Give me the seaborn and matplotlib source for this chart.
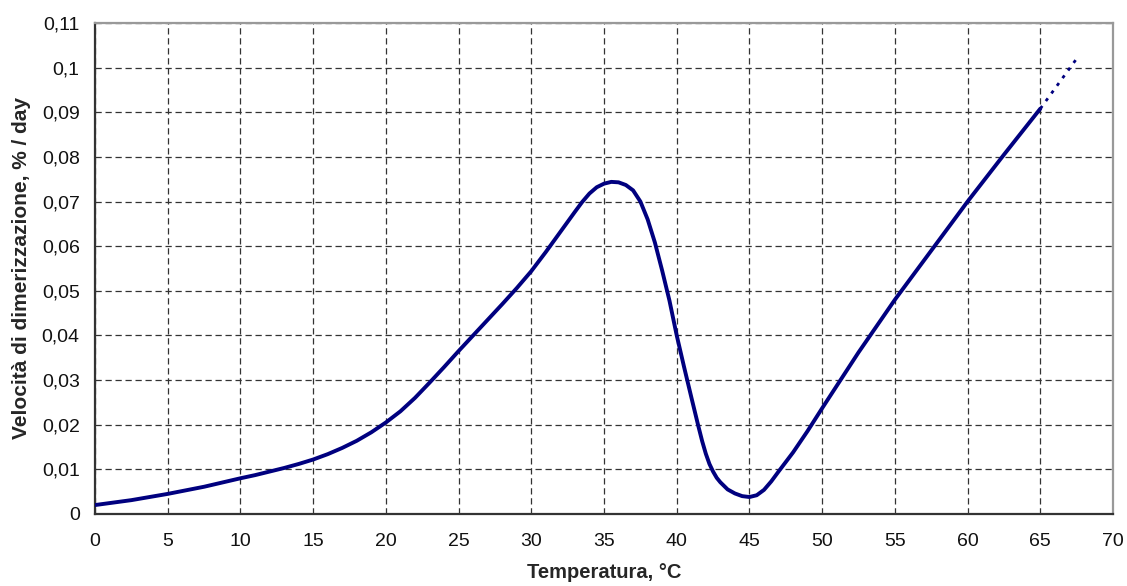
import matplotlib
matplotlib.use("Agg")
import matplotlib.pyplot as plt
import seaborn as sns
import pandas as pd

# Data
temperature = [0, 2.5, 5, 7.5, 10, 11, 12, 13, 14, 15, 16, 17, 18, 19, 20, 21, 22, 23, 24,
               25, 26, 27, 28, 29, 30, 31, 32, 33, 33.5, 34, 34.5, 35, 35.5, 36, 36.5, 37,
               37.5, 38, 38.5, 39, 39.5, 40, 40.5, 41, 41.5, 41.75, 42, 42.25, 42.5, 42.75,
               43, 43.5, 44, 44.5, 45, 45.5, 46, 46.5, 47, 48, 49, 50, 52.5, 55, 57.5, 60,
               62.5, 65]
rate = [0.0020, 0.0031, 0.0045, 0.0061, 0.0080, 0.0087, 0.0095, 0.0103, 0.0112, 0.0122,
        0.0134, 0.0148, 0.0164, 0.0183, 0.0205, 0.0230, 0.0260, 0.0294, 0.0329, 0.0365,
        0.0400, 0.0435, 0.0470, 0.0506, 0.0544, 0.0587, 0.0632, 0.0677, 0.0699, 0.0718,
        0.0732, 0.0740, 0.0744, 0.0743, 0.0737, 0.0725, 0.0700, 0.0660, 0.0608, 0.0545,
        0.0478, 0.0400, 0.0330, 0.0262, 0.0195, 0.0163, 0.0135, 0.0112, 0.0095, 0.0081,
        0.0071, 0.0055, 0.0046, 0.0040, 0.0038, 0.0042, 0.0054, 0.0073, 0.0095, 0.0138,
        0.0186, 0.0237, 0.0362, 0.0480, 0.0590, 0.0700, 0.0805, 0.0908]
ext_temperature = [65, 67.5]
ext_rate = [0.0908, 0.1020]

x_ticks = list(range(0, 71, 5))
y_ticks = [0, 0.01, 0.02, 0.03, 0.04, 0.05, 0.06, 0.07, 0.08, 0.09, 0.10, 0.11]
y_tick_labels = ["0", "0,01", "0,02", "0,03", "0,04", "0,05", "0,06", "0,07",
                 "0,08", "0,09", "0,1", "0,11"]

sns.set_theme(style="white")
plt.rcParams['font.family'] = ['Liberation Sans', 'DejaVu Sans']

fig = plt.figure(figsize=(11.27, 5.86), dpi=100)
ax = fig.add_axes([0.0843, 0.1229, 0.9033, 0.8379])

line_color = "#00007f"
main = pd.DataFrame({"T": temperature, "v": rate})
ext = pd.DataFrame({"T": ext_temperature, "v": ext_rate})
sns.lineplot(data=main, x="T", y="v", ax=ax, color=line_color, linewidth=2.8,
             sort=False, zorder=3, solid_joinstyle="round", solid_capstyle="round")
sns.lineplot(data=ext, x="T", y="v", ax=ax, color=line_color, linewidth=2.0,
             sort=False, linestyle=(0, (1.2, 2.2)), zorder=3)

ax.set_xlim(0, 70)
ax.set_ylim(0, 0.11)
ax.set_xticks(x_ticks)
ax.set_xticklabels([str(t) for t in x_ticks])
ax.set_yticks(y_ticks)
ax.set_yticklabels(y_tick_labels)

ax.grid(True, color="#333333", linestyle=(0, (5, 3)), linewidth=0.9, zorder=1)
ax.set_axisbelow(True)

for side in ["left", "bottom"]:
    ax.spines[side].set_color("#333333")
    ax.spines[side].set_linewidth(1.6)
for side in ["top", "right"]:
    ax.spines[side].set_color("#999999")
    ax.spines[side].set_linewidth(1.6)

ax.tick_params(axis="both", which="major", direction="out", length=5, width=1,
               color="#333333", labelsize=14, labelcolor="#111111")
ax.tick_params(axis="x", pad=9)
ax.tick_params(axis="y", pad=6)

ax.set_xlabel("Temperatura, °C", fontsize=14.5, fontweight="bold", labelpad=9)
ax.set_ylabel("Velocità di dimerizzazione, % / day", fontsize=15, fontweight="bold",
              labelpad=8)

fig.savefig("out.png", dpi=100)
